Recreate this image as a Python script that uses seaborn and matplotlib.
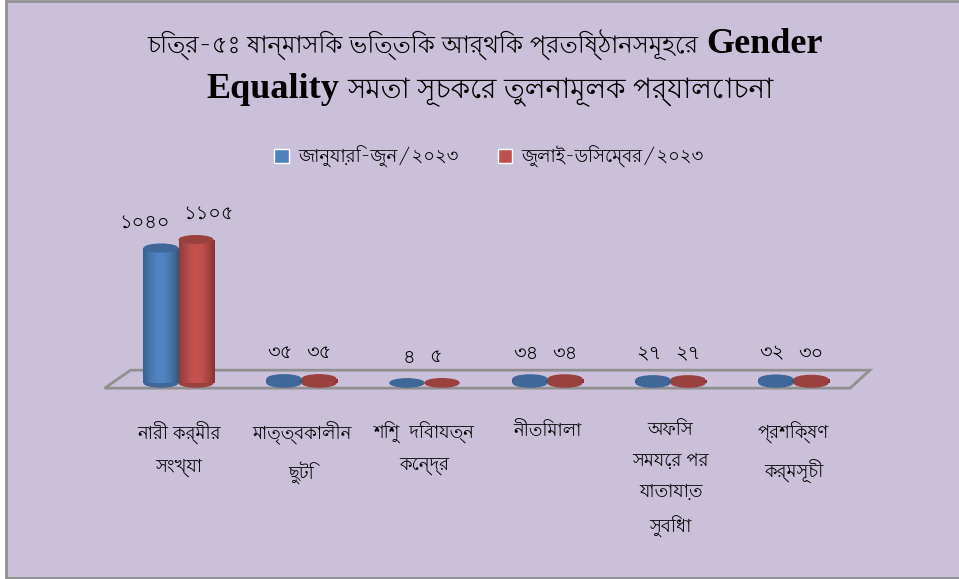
import numpy as np
import pandas as pd
import matplotlib
matplotlib.use("Agg")
import matplotlib.pyplot as plt
import seaborn as sns
from matplotlib import font_manager
from matplotlib.ft2font import FT2Font
from matplotlib.patches import Ellipse, Polygon, Rectangle
from matplotlib.colors import to_rgb

# ---- data ----
categories = ["নারী কর্মীর\nসংখ্যা", "মাতৃত্বকালীন\nছুটি", "শিশু  দিবাযত্ন\nকেন্দ্র",
              "নীতিমালা", "অফিস\nসময়ের পর\nযাতায়াত\nসুবিধা", "প্রশিক্ষণ\nকর্মসূচী"]
jan_jun = [1040, 35, 4, 34, 27, 32]
jul_dec = [1105, 35, 5, 34, 27, 30]
series_names = ["জানুয়ারি-জুন/২০২৩", "জুলাই-ডিসেম্বর/২০২৩"]
colors = ["#4F81BD", "#C0504D"]
title_bn_1 = "চিত্র-৫ঃ ষান্মাসিক ভিত্তিক আর্থিক প্রতিষ্ঠানসমূহের"
title_en_1 = "Gender"
title_en_2 = "Equality"
title_bn_2 = "সমতা সূচকের তুলনামূলক পর্যালোচনা"

BG = "#CBC0DA"
W, H = 959, 579


def find_bengali_font():
    found = []
    for f in font_manager.fontManager.ttflist:
        try:
            cmap = FT2Font(f.fname).get_charmap()
        except Exception:
            continue
        if ord("ক") in cmap:
            score = (0 if "Bengali" in f.name else 1, 0 if f.weight in (400, "normal", "regular") else 1)
            found.append((score, f.name))
    found.sort()
    return found[0][1] if found else "DejaVu Sans"


bn_font = find_bengali_font()
BN = [bn_font, "DejaVu Sans"]
SERIF = ["Liberation Serif", "DejaVu Serif"]


def bn_digits(n):
    return str(n).translate(str.maketrans("0123456789", "০১২৩৪৫৬৭৮৯"))


sns.set_style("white")
plt.rcParams["font.family"] = BN
plt.rcParams["text.color"] = "black"
plt.rcParams["xtick.color"] = "black"

fig = plt.figure(figsize=(W / 100, H / 100), dpi=100)
fig.patch.set_facecolor("white")
fig.patches.append(Rectangle((6 / W, 1 / H), 1.0, 1 - 2 / H, transform=fig.transFigure,
                             facecolor=BG, edgecolor="#8f8f8f", linewidth=2, zorder=-10))

ax = fig.add_axes([0.122, 0.3247, 0.7696, 0.3278])
ax.set_facecolor("none")

df = pd.DataFrame({
    "cat": categories * 2,
    "value": jan_jun + jul_dec,
    "period": [series_names[0]] * len(categories) + [series_names[1]] * len(categories),
})
sns.barplot(data=df, x="cat", y="value", hue="period", palette=colors, width=0.57,
            saturation=1, ax=ax, legend=False)

ylo, yhi = -60, 1400
ax.set_xlim(-0.5, len(categories) - 0.5)
ax.set_ylim(ylo, yhi)
cap_h = 70  # ellipse height in data units

# floor plate
x0, x1 = ax.get_xlim()
floor = Polygon([(x0 - 0.1, -38), (x1 - 0.04, -38), (x1 + 0.12, 100), (x0 + 0.11, 100)],
                closed=True, facecolor="none", edgecolor="#909090", linewidth=2,
                clip_on=False, zorder=0.5)
ax.add_patch(floor)

bars = list(ax.patches)[:2 * len(categories)]
values = jan_jun + jul_dec
for i, (bar, val) in enumerate(zip(bars, values)):
    series = i // len(categories)
    c = np.array(to_rgb(colors[series]))
    bx, bw, bh = bar.get_x(), bar.get_width(), bar.get_height()
    bar.set_visible(False)
    # shaded body like a cylinder
    t = np.linspace(0, 1, 64)
    shade = 0.72 + 0.38 * np.sin(np.pi * (t * 0.9 + 0.02)) - 0.15 * t
    img = np.clip(c[None, :] * shade[:, None], 0, 1)[None, :, :]
    body = Rectangle((bx, 0), bw, bh, transform=ax.transData)
    ax.add_patch(Ellipse((bx + bw / 2, 0), bw, cap_h, facecolor=c * 0.8, edgecolor="none", zorder=2))
    im = ax.imshow(img, extent=(bx, bx + bw, 0, bh), aspect="auto", zorder=2.1, interpolation="bilinear")
    im.set_clip_path(body)
    ax.add_patch(Ellipse((bx + bw / 2, bh), bw, cap_h, facecolor=np.clip(c * 0.8, 0, 1),
                         edgecolor="none", zorder=2.2))
    if series == 0:
        ax.annotate(bn_digits(val), (bx + bw / 2, bh), xytext=(6, 12), textcoords="offset points",
                    ha="right", va="bottom", fontsize=14, family=BN, color="black")
    else:
        ax.annotate(bn_digits(val), (bx + bw / 2, bh), xytext=(-9, 12), textcoords="offset points",
                    ha="left", va="bottom", fontsize=14, family=BN, color="black")

ax.set_xlim(x0, x1)
ax.set_ylim(ylo, yhi)
sns.despine(ax=ax, left=True, bottom=True)
ax.set_yticks([])
ax.set_xlabel("")
ax.set_ylabel("")
ax.tick_params(axis="x", length=0, pad=22, labelsize=13, labelcolor="black")
for lab in ax.get_xticklabels():
    lab.set_family(BN)
    lab.set_linespacing(1.9)
    lab.set_verticalalignment("top")

# title: Bengali text plus bold Latin words, each line centred as a whole
renderer = fig.canvas.get_renderer()
gap = 8


def title_line(parts, y, cx):
    texts = [fig.text(0, y, s, ha="left", va="baseline", fontsize=fs, family=fam,
                      fontweight=fw, color="black")
             for s, fs, fam, fw in parts]
    widths = [t.get_window_extent(renderer).width for t in texts]
    x = cx - (sum(widths) + gap * (len(texts) - 1)) / 2
    for t, w in zip(texts, widths):
        t.set_x(x / W)
        x += w + gap


title_line([(title_bn_1, 17.5, BN, "normal"), (title_en_1, 26, SERIF, "bold")], 1 - 53 / H, 485)
title_line([(title_en_2, 26, SERIF, "bold"), (title_bn_2, 20, BN, "normal")], 1 - 98 / H, 490)

handles = [Rectangle((0, 0), 1, 1, facecolor=c) for c in colors]
leg = fig.legend(handles, series_names, loc="center", bbox_to_anchor=(0.51, 0.729), ncol=2,
                 frameon=False, handlelength=0.8, handleheight=0.8, handletextpad=0.5,
                 columnspacing=2.2, prop={"family": BN, "size": 13})
for t in leg.get_texts():
    t.set_color("black")

fig.savefig("out.png", dpi=100, facecolor=fig.get_facecolor())
